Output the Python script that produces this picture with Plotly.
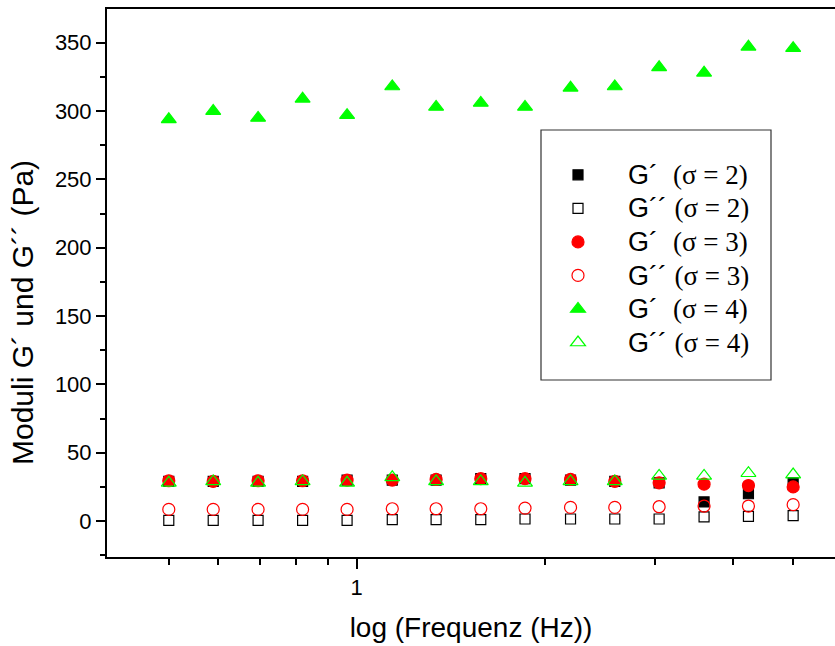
import plotly.graph_objects as go

freq = [0.5, 0.589, 0.695, 0.819, 0.965, 1.14, 1.34, 1.58, 1.86, 2.2, 2.59, 3.05, 3.6, 4.24, 5.0]

g1_s2 = [29, 29, 29, 29, 30, 30, 30, 31, 31, 30, 29, 28, 14, 20, 28]
g2_s2 = [0.5, 0.5, 0.5, 0.5, 0.5, 1, 1, 1, 1.5, 1.5, 1.5, 1.5, 3, 3.5, 4]
g1_s3 = [29.5, 29, 29.5, 29.5, 30, 30, 30.5, 31, 31, 30.5, 29, 28, 27, 26, 25]
g2_s3 = [8.5, 8.5, 8.5, 8.5, 8.5, 9, 9, 9, 9.5, 10, 10, 10.5, 11, 11, 12]
g1_s4 = [294, 300, 295, 309, 297, 318, 303, 306, 303, 317, 318, 332, 328, 347, 346]
g2_s4 = [28, 29, 28, 29, 28, 32, 29, 29, 28, 29, 29, 33, 33, 35, 34]

x_title = "log (Frequenz (Hz))"
y_title = "Moduli G´ und G´´ (Pa)"

SERIF = "Liberation Serif, Times New Roman, serif"
PAD = "\u00a0" * 4

def lab(g, s):
    return (f"<span style='font-size:27px'>{PAD}{g} "
            f"<span style='font-family:{SERIF}'>(σ = {s})</span></span>")

series = [
    (g1_s2, lab("G´\u00a0", 2), "square", "black", 10, "#000000"),
    (g2_s2, lab("G´´", 2), "square-open", "black", 10, "#000000"),
    (g1_s3, lab("G´\u00a0", 3), "circle", "#ff0000", 12, "#ff0000"),
    (g2_s3, lab("G´´", 3), "circle-open", "#ff0000", 12, "#ff0000"),
    (g1_s4, lab("G´\u00a0", 4), "triangle-up", "#00ff00", 13, "#00ff00"),
    (g2_s4, lab("G´´", 4), "triangle-up-open", "#00ff00", 13, "#00ff00"),
]

fig = go.Figure()
for ys, name, sym, col, sz, lc in series:
    fig.add_trace(go.Scatter(
        x=freq, y=ys, name=name, mode="markers",
        marker=dict(symbol=sym, color=col, size=sz, line=dict(color=lc, width=1.2)),
    ))

fig.update_layout(
    width=835, height=646,
    margin=dict(l=107, r=0, t=9, b=89),
    plot_bgcolor="white", paper_bgcolor="white",
    font=dict(family="Liberation Sans, Arial, sans-serif", color="black", size=22),
    showlegend=True,
    legend=dict(
        x=(558 - 107) / 728, y=(557 - 153) / 548, xanchor="left", yanchor="top",
        bgcolor="rgba(0,0,0,0)", borderwidth=0,
        font=dict(size=23.5, color="black"),
        itemsizing="trace",
        tracegroupgap=0,
    ),
    shapes=[dict(type="rect", xref="paper", yref="paper",
                 x0=(541 - 107) / 728, x1=(771 - 107) / 728,
                 y0=(557 - 380) / 548, y1=(557 - 130) / 548,
                 line=dict(color="#333333", width=1.2), fillcolor="rgba(0,0,0,0)")],
    annotations=[dict(text=y_title, xref="paper", yref="paper",
                      x=(22 - 107) / 728, y=(557 - 313) / 548,
                      xanchor="center", yanchor="middle", textangle=-90,
                      showarrow=False, font=dict(size=30, color="black"))],
)

fig.update_xaxes(
    type="log", range=[-0.400, 0.766],
    showline=True, linecolor="black", linewidth=2, mirror=True,
    showgrid=False, zeroline=False,
    ticks="outside", ticklen=10, tickwidth=2, tickcolor="black",
    tickvals=[1], ticktext=["1"],
    minor=dict(ticks="outside", ticklen=6, tickwidth=2, tickcolor="black",
               tickvals=[0.5, 0.6, 0.7, 0.8, 0.9, 2, 3, 4, 5], showgrid=False),
    title=dict(text=x_title, font=dict(size=28), standoff=18),
    tickfont=dict(size=22),
)
fig.update_yaxes(
    range=[-26.3, 374.7],
    showline=True, linecolor="black", linewidth=2, mirror=False,
    showgrid=False, zeroline=False,
    ticks="outside", ticklen=9, tickwidth=2, tickcolor="black",
    tickvals=[0, 50, 100, 150, 200, 250, 300, 350],
    minor=dict(ticks="outside", ticklen=5, tickwidth=2, tickcolor="black",
               tickvals=[-25, 25, 75, 125, 175, 225, 275, 325], showgrid=False),
    tickfont=dict(size=22),
)

fig.write_html("out.html", config={"displayModeBar": False},
               post_script="document.body.style.margin='0';document.body.style.overflow='hidden';")
